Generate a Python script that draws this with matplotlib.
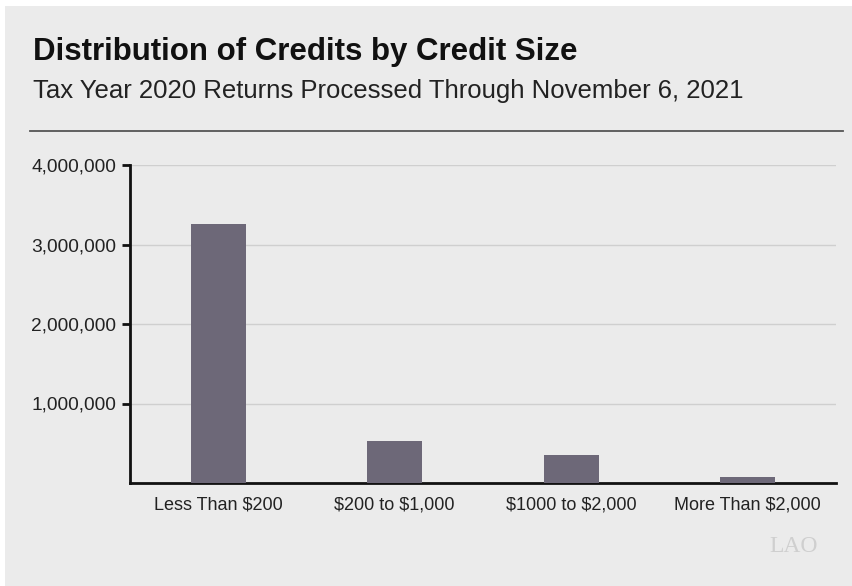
import matplotlib.pyplot as plt
from matplotlib.patches import Rectangle
from matplotlib.ticker import FuncFormatter

categories = ["Less Than \\$200", "\\$200 to \\$1,000", "\\$1000 to \\$2,000", "More Than \\$2,000"]
credits = [3260000, 530000, 350000, 75000]
yticks = [1000000, 2000000, 3000000, 4000000]

W, H = 853, 586
bg = "#ebebeb"
bar_color = "#6d6878"

plt.rcParams['font.family'] = ['Liberation Sans', 'DejaVu Sans']

fig = plt.figure(figsize=(W / 100, H / 100), dpi=100)
fig.patch.set_facecolor("white")
fig.patches.append(Rectangle((5 / W, 0), 1, 1 - 6 / H, transform=fig.transFigure,
                             facecolor=bg, edgecolor="none", zorder=-10))

fig.text(33 / W, 1 - 60 / H, "Distribution of Credits by Credit Size",
         fontsize=22.5, fontweight="bold", va="baseline", ha="left", color="#111111")
fig.text(33 / W, 1 - 98 / H, "Tax Year 2020 Returns Processed Through November 6, 2021",
         fontsize=18.5, va="baseline", ha="left", color="#222222")
fig.add_artist(plt.Line2D([30 / W, 843 / W], [1 - 131 / H, 1 - 131 / H],
                          transform=fig.transFigure, color="#555555", lw=1.3))

left, right, top, bottom = 130, 836, 165, 483
ax = fig.add_axes([left / W, 1 - bottom / H, (right - left) / W, (bottom - top) / H])
ax.set_facecolor(bg)
x = list(range(len(categories)))
ax.bar(x, credits, width=0.31, color=bar_color, zorder=3)
ax.set_xlim(-0.5, 3.5)
ax.set_ylim(0, 4000000)
ax.set_yticks(yticks)
ax.yaxis.set_major_formatter(FuncFormatter(lambda v, p: f"{int(v):,}"))
ax.set_xticks(x)
ax.set_xticklabels(categories)
ax.grid(axis="y", color="#cfcfcf", lw=1, zorder=0)
for s in ["top", "right"]:
    ax.spines[s].set_visible(False)
for s in ["left", "bottom"]:
    ax.spines[s].set_linewidth(2)
    ax.spines[s].set_color("#111111")
ax.tick_params(axis="y", length=6, width=2, color="#111111", labelsize=13.8,
               labelcolor="#222222", pad=4)
ax.tick_params(axis="x", length=0, labelsize=13, labelcolor="#222222", pad=10)

fig.text(818 / W, 1 - 546 / H, "LAO", fontsize=17, family="Liberation Serif",
         color="#cfcfcf", ha="right", va="center")

fig.savefig("out.png", dpi=100, facecolor=fig.get_facecolor())
